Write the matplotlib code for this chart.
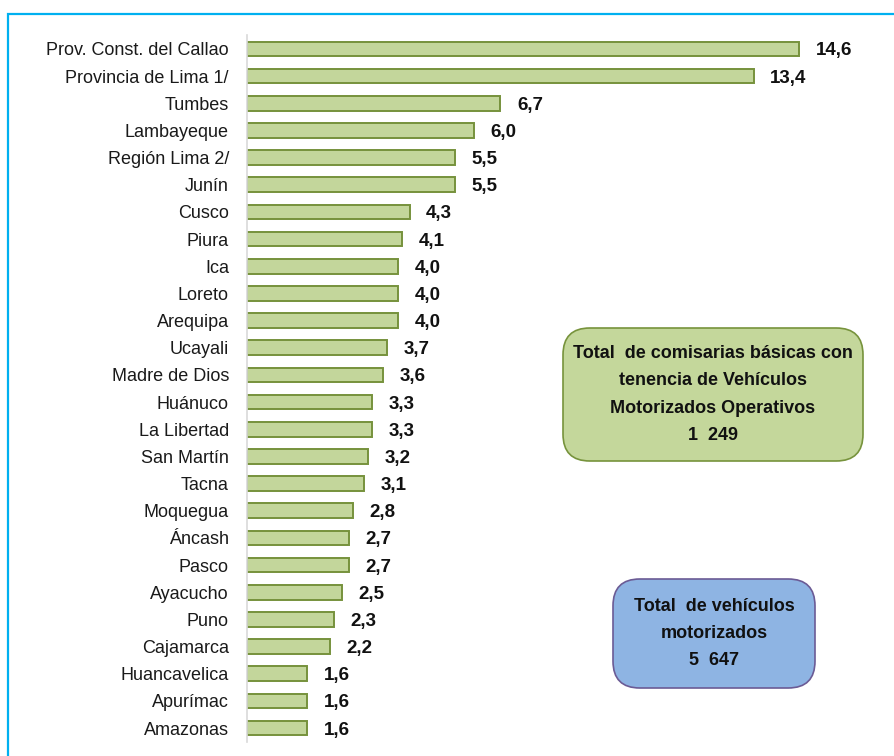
import matplotlib
matplotlib.use("Agg")
import matplotlib.pyplot as plt
from matplotlib.patches import FancyBboxPatch, Rectangle

plt.rcParams["font.family"] = ["Liberation Sans", "DejaVu Sans"]

regions = [
    "Prov. Const. del Callao", "Provincia de Lima 1/", "Tumbes", "Lambayeque",
    "Región Lima 2/", "Junín", "Cusco", "Piura", "Ica", "Loreto", "Arequipa",
    "Ucayali", "Madre de Dios", "Huánuco", "La Libertad", "San Martín", "Tacna",
    "Moquegua", "Áncash", "Pasco", "Ayacucho", "Puno", "Cajamarca",
    "Huancavelica", "Apurímac", "Amazonas",
]
values = [
    14.6, 13.4, 6.7, 6.0, 5.5, 5.5, 4.3, 4.1, 4.0, 4.0, 4.0, 3.7, 3.6, 3.3,
    3.3, 3.2, 3.1, 2.8, 2.7, 2.7, 2.5, 2.3, 2.2, 1.6, 1.6, 1.6,
]
box1_lines = ["Total  de comisarias básicas con", "tenencia de Vehículos",
              "Motorizados Operativos", "1  249"]
box2_lines = ["Total  de vehículos", "motorizados", "5  647"]

W, H = 894, 756
fig = plt.figure(figsize=(W / 100, H / 100), dpi=100)

# cyan frame around the chart
fig.patches.append(Rectangle((8 / W, -0.1), 1.2, 1 - 14 / H + 0.1, transform=fig.transFigure,
                             fill=False, edgecolor="#00b0f0", linewidth=1.6))

ax = fig.add_axes([247 / W, 1 - 741.6 / H, 633 / W, (741.6 - 35.4) / H])
y = list(range(len(regions)))
ax.barh(y, values, height=0.54, color="#c3d69b", edgecolor="#76923c", linewidth=1.4)
ax.set_ylim(len(regions) - 0.5, -0.5)
ax.set_xlim(0, 14.6 * 633 / 552)
ax.set_yticks(y)
ax.set_yticklabels(regions, fontsize=13, color="#1a1a1a")
ax.set_xticks([])
ax.tick_params(axis="y", length=0, pad=13)
for s in ["top", "right", "bottom"]:
    ax.spines[s].set_visible(False)
ax.spines["left"].set_color("#d9d9d9")
ax.spines["left"].set_linewidth(1.2)

for yi, v in zip(y, values):
    ax.annotate(f"{v:.1f}".replace(".", ","), (v, yi), xytext=(12, 0), textcoords="offset points",
                va="center_baseline", ha="left", fontsize=13.5, fontweight="bold", color="#111111")

# summary boxes
def add_box(x0, y0, x1, y1, face, edge, lines, spacing):
    bx = FancyBboxPatch((x0 / W, 1 - y1 / H), (x1 - x0) / W, (y1 - y0) / H,
                        boxstyle="round,pad=0,rounding_size=0.03", transform=fig.transFigure,
                        facecolor=face, edgecolor=edge, linewidth=1.2, mutation_aspect=W / H)
    fig.patches.append(bx)
    fig.text((x0 + x1) / 2 / W, 1 - (y0 + y1) / 2 / H, "\n".join(lines), ha="center", va="center",
             fontsize=13, fontweight="bold", linespacing=spacing, color="#111111")

add_box(563, 328, 863, 461, "#c4d79b", "#77933c", box1_lines, 1.78)
add_box(613, 579, 815, 688, "#8eb4e3", "#6b5b95", box2_lines, 1.75)

fig.savefig("out.png", dpi=100, facecolor="white")
